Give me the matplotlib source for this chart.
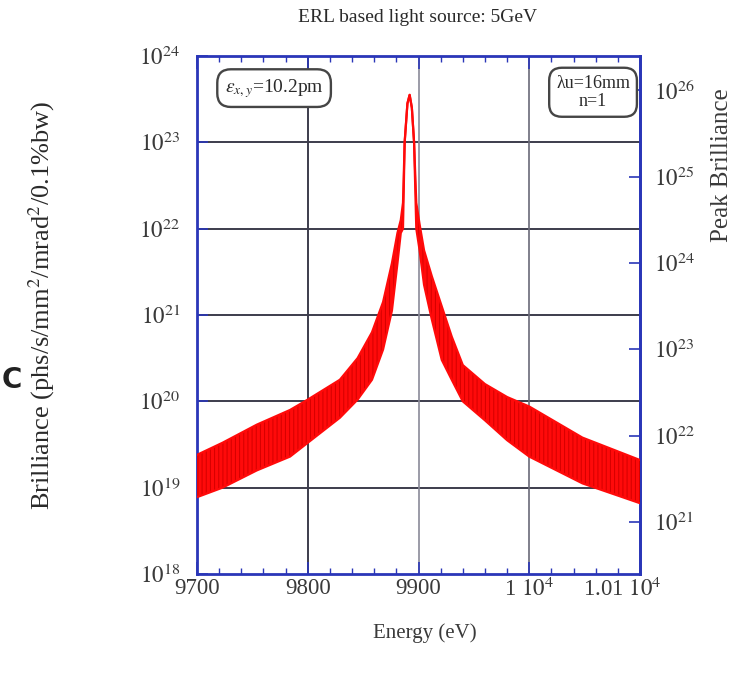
import matplotlib
matplotlib.use("Agg")
import matplotlib.pyplot as plt
import numpy as np
from matplotlib.ticker import FixedLocator, NullFormatter, MultipleLocator

plt.rcParams['font.family'] = ['Liberation Serif', 'DejaVu Serif']
plt.rcParams['mathtext.fontset'] = 'stix'
plt.rcParams['hatch.linewidth'] = 0.7

# ---- data ----
energy = [9700, 9723, 9754, 9784, 9800, 9829, 9845, 9858, 9868, 9876, 9881,
          9884, 9886, 9887.5, 9890, 9892, 9894, 9896, 9898, 9901, 9905,
          9912, 9921, 9930, 9940, 9960, 9980, 10000, 10048, 10100]
log_upper = [19.38, 19.52, 19.73, 19.90, 20.02, 20.25, 20.50, 20.80, 21.15, 21.60, 21.95,
             22.10, 22.30, 23.00, 23.45, 23.55, 23.40, 23.00, 22.30, 22.05, 21.75,
             21.45, 21.10, 20.75, 20.42, 20.20, 20.05, 19.94, 19.58, 19.32]
log_lower = [18.89, 19.00, 19.20, 19.36, 19.52, 19.81, 20.02, 20.25, 20.60, 21.05, 21.60,
             21.95, 22.00, 23.00, 23.45, 23.55, 23.40, 23.00, 22.00, 21.75, 21.35,
             20.95, 20.48, 20.25, 20.00, 19.78, 19.55, 19.36, 19.05, 18.82]

x_ticks = [9700, 9800, 9900, 10000, 10100]
x_ticklabels = ['9700', '9800', '9900', r'1 $10^{4}$', r'1.01 $10^{4}$']
y_exponents = [18, 19, 20, 21, 22, 23, 24]
right_exponents = [21, 22, 23, 24, 25, 26]
peak_factor = 250.0  # Peak brilliance / brilliance

title = 'ERL based light source: 5GeV'
xlabel = 'Energy (eV)'
ylabel = r'Brilliance (phs/s/mm$^{2}$/mrad$^{2}$/0.1%bw)'
ylabel_right = 'Peak Brilliance'

# ---- figure ----
fig = plt.figure(figsize=(7.54, 6.74), dpi=100)
ax = fig.add_axes([197/754, 1-574/674, 443/754, 518/674])
ax.set_yscale('log')
ax.set_xlim(9700, 10100)
ax.set_ylim(1e18, 1e24)

E = np.array(energy)
U = 10.0 ** np.array(log_upper)
L = 10.0 ** np.array(log_lower)
red = '#ff0a0a'
ax.fill_between(E, L, U, facecolor=red, edgecolor='#d40000', hatch='||||',
                linewidth=0, zorder=3)
ax.plot(E, U, color=red, lw=1.6, zorder=4)
ax.plot(E, L, color=red, lw=1.6, zorder=4)

# grid lines
grid_dark = '#3c3c4c'
for e in y_exponents[1:-1]:
    ax.axhline(10.0 ** e, color=grid_dark, lw=1.4, zorder=1)
ax.axvline(9800, color=grid_dark, lw=1.4, zorder=1)
ax.axvline(9900, color='#8a8a98', lw=1.2, zorder=1)
ax.axvline(10000, color='#6a6a78', lw=1.2, zorder=1)

blue = '#2a36b8'
for s in ax.spines.values():
    s.set_color(blue)
    s.set_linewidth(2.0)

label_color = '#3a3a3a'
tick_fs = 16.5
ax.xaxis.set_major_locator(FixedLocator(x_ticks))
ax.set_xticklabels(x_ticklabels[:-1] + [''])
ax.xaxis.set_minor_locator(MultipleLocator(20))
ax.tick_params(axis='x', which='both', direction='in', top=True, bottom=True,
               color=blue, labelsize=tick_fs, labelcolor=label_color, pad=3)
ax.tick_params(axis='x', which='major', length=9, width=1.2)
ax.tick_params(axis='x', which='minor', length=4, width=1.0)
ax.annotate(x_ticklabels[-1], xy=(10100, 0), xycoords=('data', 'axes fraction'),
            xytext=(-13, -3), textcoords='offset points', ha='center', va='top',
            fontsize=tick_fs, color=label_color)

ax.yaxis.set_major_locator(FixedLocator([10.0 ** e for e in y_exponents]))
ax.set_yticklabels([r'$10^{%d}$' % e for e in y_exponents])
ax.yaxis.set_minor_formatter(NullFormatter())
ax.tick_params(axis='y', which='major', direction='in', length=8, width=1.2,
               color=blue, labelsize=tick_fs, labelcolor=label_color, pad=12)
ax.tick_params(axis='y', which='minor', length=0)

sec = ax.secondary_yaxis('right', functions=(lambda y: y * peak_factor,
                                              lambda y: y / peak_factor))
sec.yaxis.set_major_locator(FixedLocator([10.0 ** e for e in right_exponents]))
sec.set_yticklabels([r'$10^{%d}$' % e for e in right_exponents])
sec.yaxis.set_minor_formatter(NullFormatter())
sec.tick_params(axis='y', which='major', direction='in', length=8, width=1.2,
                color=blue, labelsize=tick_fs, labelcolor=label_color, pad=10)
sec.tick_params(axis='y', which='minor', length=0)
sec.spines['right'].set_color(blue)
sec.spines['right'].set_linewidth(2.0)

# annotation boxes
box = dict(boxstyle='round,pad=0.38,rounding_size=0.7', fc='white',
           ec='#454545', lw=1.7)
ax.text(0.174, 0.938, r'$\epsilon_{x,y}$=10.2pm', transform=ax.transAxes,
        ha='center', va='center', fontsize=14, color='#2a2a2a', bbox=box, zorder=6)
ax.text(0.894, 0.930, 'λu=16mm\nn=1', transform=ax.transAxes, ha='center',
        va='center', fontsize=13, color='#2a2a2a', bbox=box, linespacing=1.1,
        zorder=6)

fig.text(418/754, 1-17/674, title, ha='center', va='center', fontsize=14,
         color='#2a2a2a')
fig.text(425/754, 1-633/674, xlabel, ha='center', va='center', fontsize=15,
         color='#3a3a3a')
fig.text(42/754, 1-305/674, ylabel, ha='center', va='center', rotation=90,
         fontsize=19, color='#2a2a2a')
fig.text(722/754, 1-165/674, ylabel_right, ha='center', va='center', rotation=90,
         fontsize=18, color='#3a3a3a')
fig.text(0.002, 1-380/674, 'C', ha='left', va='center', fontsize=20,
         family='DejaVu Sans', fontweight='bold', color='#222222')

fig.savefig('out.png', dpi=100)
